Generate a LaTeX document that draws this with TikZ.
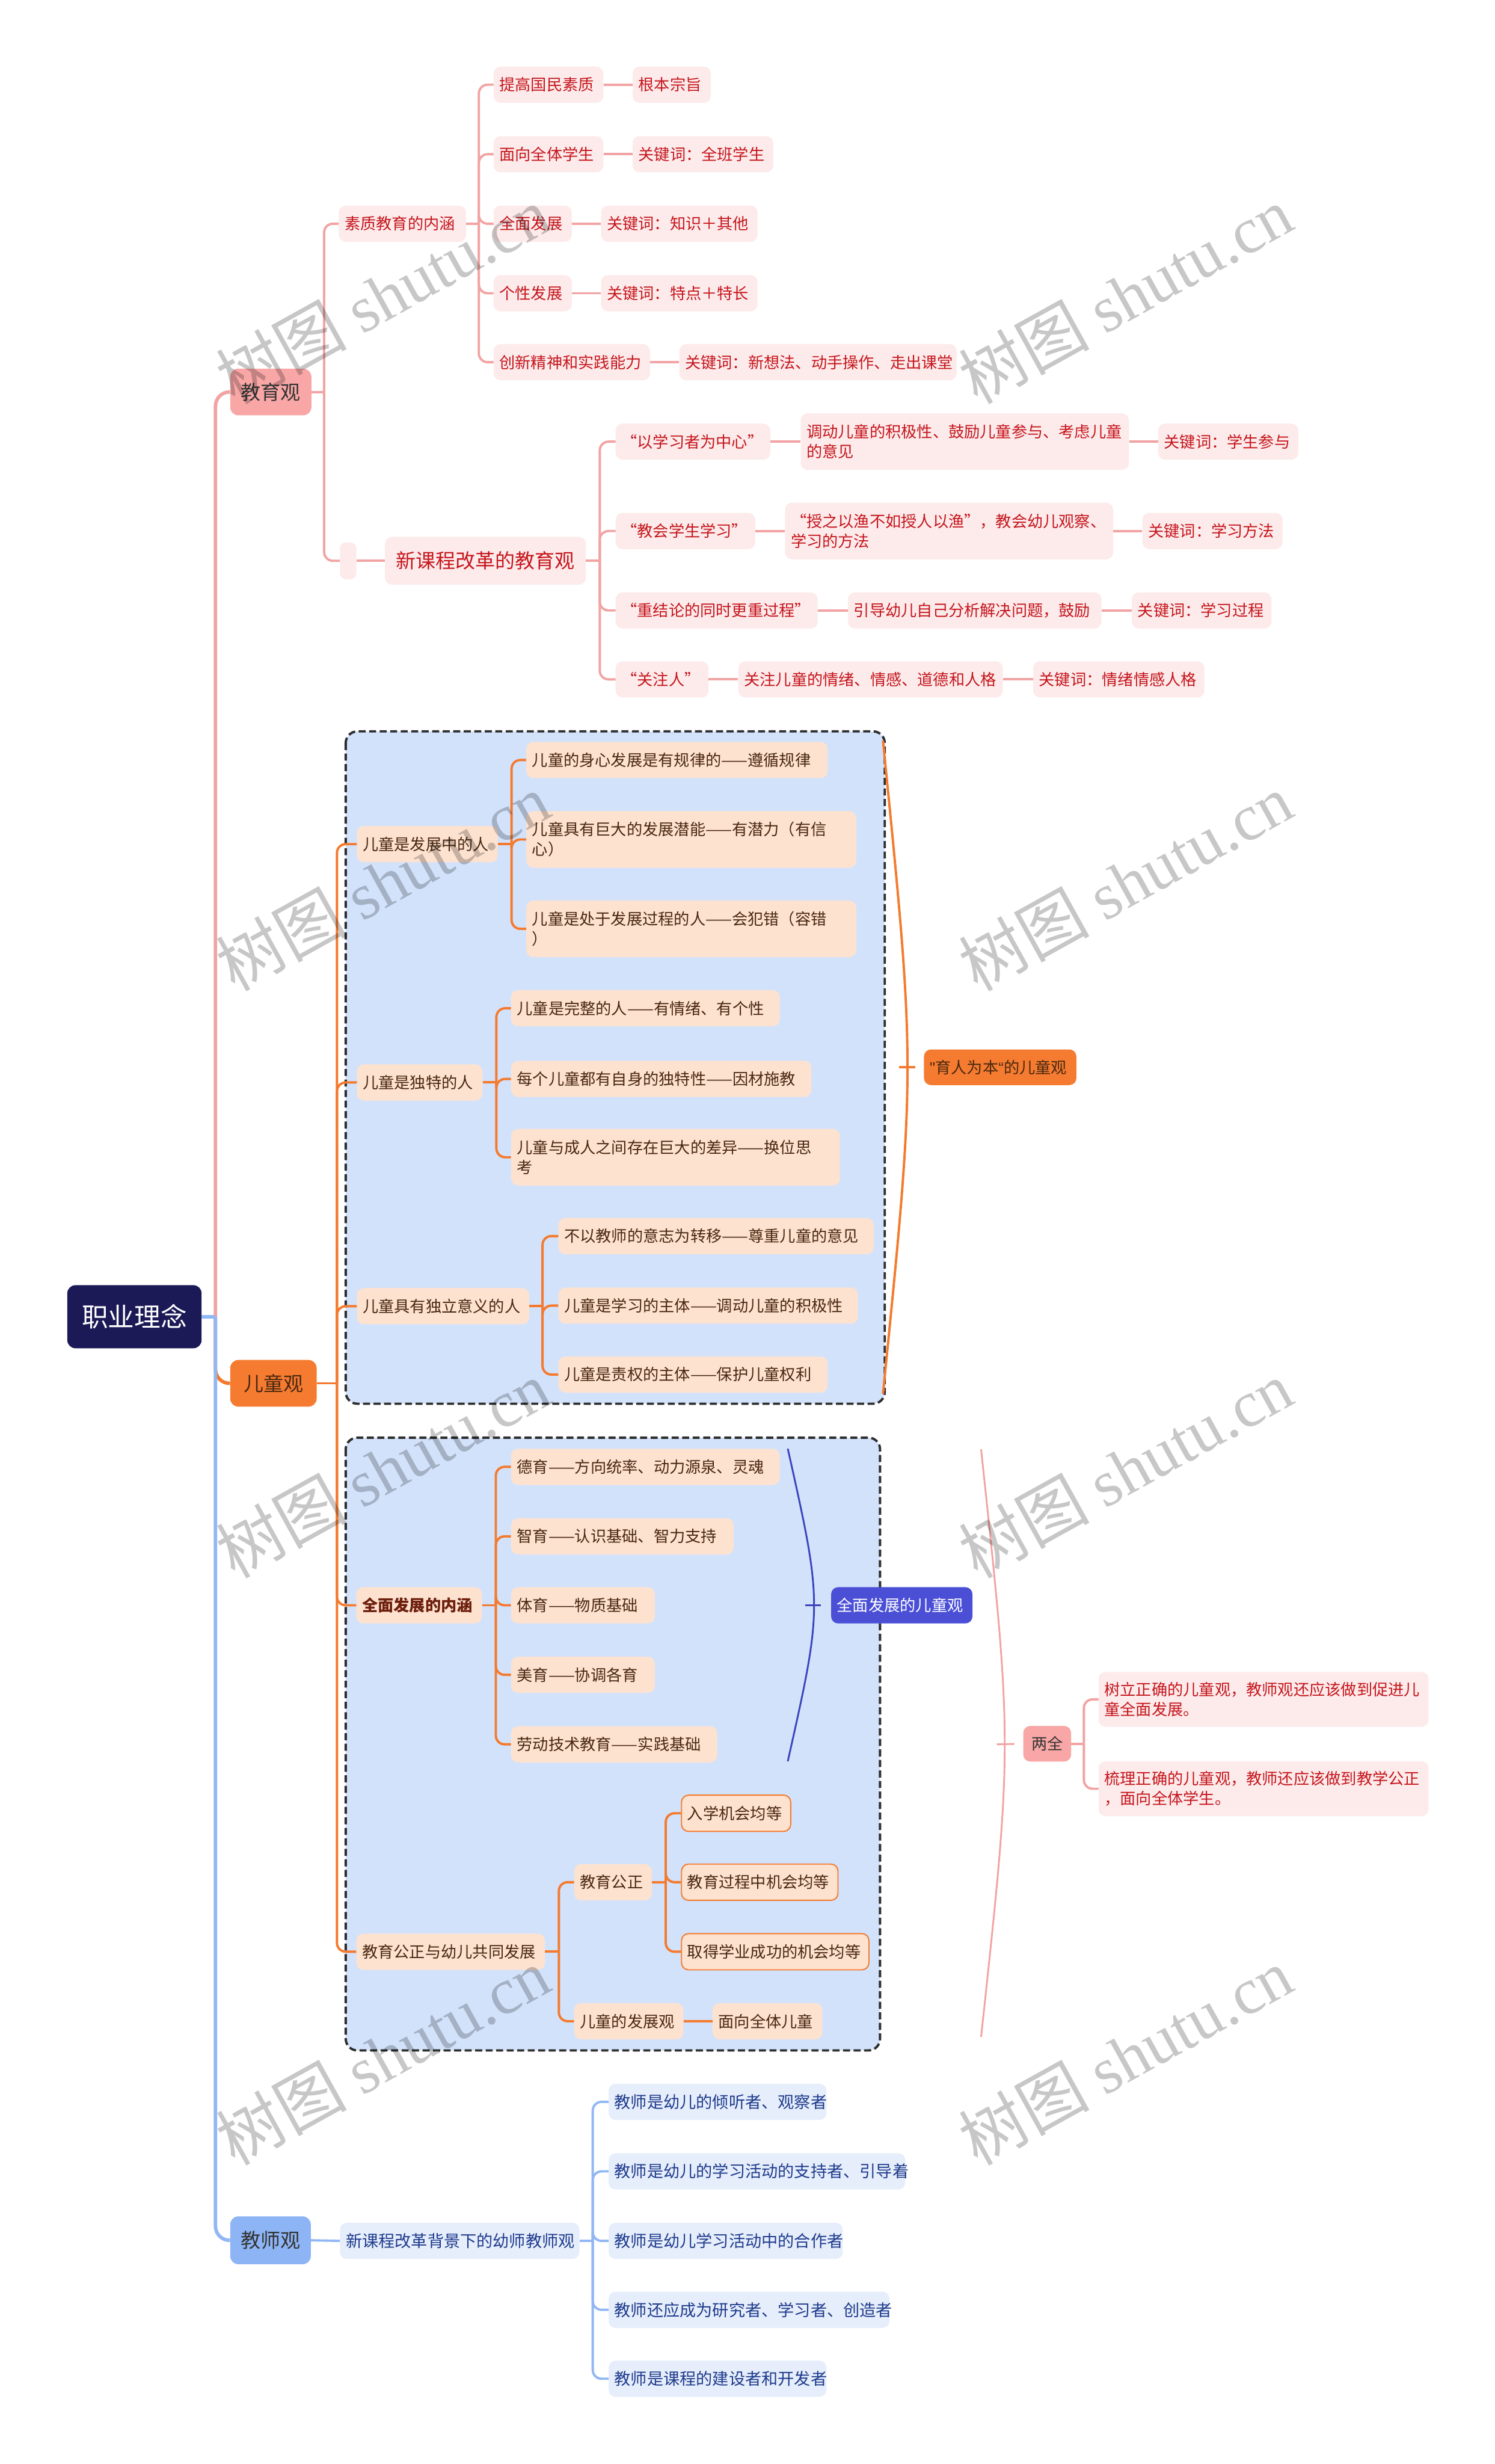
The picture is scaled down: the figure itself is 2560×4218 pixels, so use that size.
\documentclass[tikz,border=0pt]{standalone}
\usepackage{fontspec}
\setmainfont{Noto Sans CJK SC}
\newfontfamily\wmcjk{Noto Sans CJK SC}
\newfontfamily\wmlat{Liberation Serif}
\newfontfamily\qf{Liberation Sans}
\definecolor{pinkline}{HTML}{F2A3A3}
\definecolor{pinkfill}{HTML}{FDEBEB}
\definecolor{redtext}{HTML}{C5161D}
\definecolor{salmon}{HTML}{F8A7A6}
\definecolor{orfill}{HTML}{F57B30}
\definecolor{orline}{HTML}{F47A2E}
\definecolor{peach}{HTML}{FDE2D0}
\definecolor{browntext}{HTML}{4A2810}
\definecolor{boxblue}{HTML}{D3E2FB}
\definecolor{dashc}{HTML}{2E2E2E}
\definecolor{indigo}{HTML}{4A4FD6}
\definecolor{indline}{HTML}{3B45BE}
\definecolor{ltblue}{HTML}{8DB4F4}
\definecolor{blueline}{HTML}{92B7F5}
\definecolor{bluefill}{HTML}{E6EEFC}
\definecolor{navytext}{HTML}{1F3B8C}
\definecolor{rootfill}{HTML}{1B1A57}
\newcommand\fsA{\fontsize{27pt}{34pt}\selectfont}
\newcommand\fsB{\fontsize{28pt}{34pt}\selectfont}
\newcommand\fsM{\fontsize{34pt}{40pt}\selectfont}
\newcommand\fsR{\fontsize{45pt}{52pt}\selectfont}
\newcommand\nd[6]{%
  \pgfmathsetmacro\ndw{#4-#3-20}%
  \node[#1, text width=\ndw pt] (#2) at (#3,#5) {#6};}
\begin{document}
\begin{tikzpicture}[x=1pt,y=-1pt,
  box/.style={anchor=west, inner xsep=10pt, inner ysep=0pt, minimum height=62pt,
    align=left, rounded corners=12pt, font=\fsA},
  pk/.style={box, fill=pinkfill, text=redtext},
  pc/.style={box, fill=peach, text=browntext},
  pco/.style={pc, draw=orline, line width=2pt},
  bf/.style={box, fill=bluefill, text=navytext, font=\fsB},
  mainn/.style={box, align=center, font=\fsM, minimum height=80pt, rounded corners=14pt},
  two/.style={minimum height=97pt},
  pkl/.style={draw=pinkline, line width=4pt, rounded corners=15pt},
  orl/.style={draw=orline, line width=4pt, rounded corners=15pt},
  bll/.style={draw=blueline, line width=4pt, rounded corners=15pt},
  trunk/.style={line width=6pt, rounded corners=24pt},
  dashbox/.style={fill=boxblue, draw=dashc, line width=4pt, dash pattern=on 12pt off 6pt, rounded corners=20pt},
  wm/.style={rotate=29, text opacity=0.22, text=black, inner sep=0pt}
]
\useasboundingbox (0,0) rectangle (2560,4218);
\fill[white] (0,0) rectangle (2560,4218);

% dashed group boxes
\draw[dashbox] (592,1252) rectangle (1515,2403);
\draw[dashbox] (592,2461) rectangle (1507,3510);

% root and main nodes
\nd{mainn, fill=rootfill, text=white, font=\fsR, minimum height=108pt}{root}{115}{345}{2254}{职业理念}
\nd{mainn, fill=salmon, text=black!80}{jyg}{394}{533}{671}{教育观}
\nd{mainn, fill=orfill, text=browntext}{etg}{394}{542}{2368}{儿童观}
\nd{mainn, fill=ltblue, text=black!80, minimum height=82pt}{jsg}{394}{532}{3835}{教师观}

% 教育观 branch
\nd{pk}{szjy}{580}{798}{383}{素质教育的内涵}
\nd{pk}{tg}{845}{1033}{145}{提高国民素质}
\nd{pk}{gb}{1083}{1217}{145}{根本宗旨}
\nd{pk}{mx}{845}{1033}{264}{面向全体学生}
\nd{pk}{k1}{1083}{1324}{264}{关键词：全班学生}
\nd{pk}{qm}{845}{979}{383}{全面发展}
\nd{pk}{k2}{1029}{1297}{383}{关键词：知识＋其他}
\nd{pk}{gx}{845}{979}{502}{个性发展}
\nd{pk}{k3}{1029}{1297}{502}{关键词：特点＋特长}
\nd{pk}{cx}{845}{1113}{620}{创新精神和实践能力}
\nd{pk}{k4}{1163}{1638}{620}{关键词：新想法、动手操作、走出课堂}
\nd{pk, minimum height=63pt, rounded corners=10pt}{blank}{582}{610}{960}{}
\nd{pk, font=\fsM, minimum height=82pt, align=center}{xkc}{659}{1003}{960}{新课程改革的教育观}
\nd{pk}{a1}{1054}{1319}{756}{“以学习者为中心”}
\nd{pk, two}{a2}{1371}{1933}{756}{调动儿童的积极性、鼓励儿童参与、考虑儿童\\的意见}
\nd{pk}{a3}{1983}{2223}{756}{关键词：学生参与}
\nd{pk}{b1}{1054}{1293}{909}{“教会学生学习”}
\nd{pk, two}{b2}{1344}{1906}{909}{“授之以渔不如授人以渔”，教会幼儿观察、\\学习的方法}
\nd{pk}{b3}{1956}{2196}{909}{关键词：学习方法}
\nd{pk}{c1}{1054}{1400}{1045}{“重结论的同时更重过程”}
\nd{pk}{c2}{1452}{1886}{1045}{引导幼儿自己分析解决问题，鼓励}
\nd{pk}{c3}{1938}{2177}{1045}{关键词：学习过程}
\nd{pk}{d1}{1054}{1213}{1163}{“关注人”}
\nd{pk}{d2}{1264}{1717}{1163}{关注儿童的情绪、情感、道德和人格}
\nd{pk}{d3}{1769}{2062}{1163}{关键词：情绪情感人格}

% 儿童观 branch, group 1
\nd{pc}{e1}{611}{852}{1445}{儿童是发展中的人}
\nd{pc}{e11}{901}{1417}{1301}{儿童的身心发展是有规律的——遵循规律}
\nd{pc, two}{e12}{901}{1466}{1437}{儿童具有巨大的发展潜能——有潜力（有信\\心）}
\nd{pc, two}{e13}{901}{1466}{1590}{儿童是处于发展过程的人——会犯错（容错\\）}
\nd{pc}{e2}{611}{826}{1853}{儿童是独特的人}
\nd{pc}{e21}{875}{1335}{1726}{儿童是完整的人——有情绪、有个性}
\nd{pc}{e22}{875}{1389}{1847}{每个儿童都有自身的独特性——因材施教}
\nd{pc, two}{e23}{875}{1438}{1981}{儿童与成人之间存在巨大的差异——换位思\\考}
\nd{pc}{e3}{611}{906}{2236}{儿童具有独立意义的人}
\nd{pc}{e31}{956}{1496}{2116}{不以教师的意志为转移——尊重儿童的意见}
\nd{pc}{e32}{956}{1469}{2235}{儿童是学习的主体——调动儿童的积极性}
\nd{pc}{e33}{956}{1417}{2353}{儿童是责权的主体——保护儿童权利}
\nd{box, fill=orfill, text=browntext, minimum height=61pt}{yr}{1582}{1843}{1827}{{\qf"}育人为本{\qf“}的儿童观}

% 儿童观 branch, group 2
\nd{pc, font=\fsA\bfseries, text=browntext!80!red}{f1}{610}{825}{2748}{全面发展的内涵}
\nd{pc}{f11}{875}{1335}{2511}{德育——方向统率、动力源泉、灵魂}
\nd{pc}{f12}{875}{1256}{2630}{智育——认识基础、智力支持}
\nd{pc}{f13}{875}{1121}{2748}{体育——物质基础}
\nd{pc}{f14}{875}{1121}{2867}{美育——协调各育}
\nd{pc}{f15}{875}{1228}{2986}{劳动技术教育——实践基础}
\nd{box, fill=indigo, text=white}{qz}{1423}{1665}{2748}{全面发展的儿童观}
\nd{pc}{f2}{610}{933}{3341}{教育公正与幼儿共同发展}
\nd{pc}{g1}{983}{1116}{3222}{教育公正}
\nd{pco}{g11}{1166}{1353}{3104}{入学机会均等}
\nd{pco}{g12}{1166}{1434}{3222}{教育过程中机会均等}
\nd{pco}{g13}{1166}{1487}{3341}{取得学业成功的机会均等}
\nd{pc}{g2}{983}{1170}{3460}{儿童的发展观}
\nd{pc}{g21}{1220}{1408}{3460}{面向全体儿童}

% 两全
\nd{box, fill=salmon, text=black!80, minimum height=61pt, align=center}{lq}{1752}{1834}{2985}{两全}
\nd{pk, minimum height=94pt}{l1}{1881}{2446}{2909}{树立正确的儿童观，教师观还应该做到促进儿\\童全面发展。}
\nd{pk, minimum height=94pt}{l2}{1881}{2446}{3062}{梳理正确的儿童观，教师还应该做到教学公正\\，面向全体学生。}

% 教师观 branch
\nd{bf}{h0}{582}{992}{3836}{新课程改革背景下的幼师教师观}
\nd{bf}{h1}{1042}{1415}{3598}{教师是幼儿的倾听者、观察者}
\nd{bf}{h2}{1042}{1550}{3717}{教师是幼儿的学习活动的支持者、引导着}
\nd{bf}{h3}{1042}{1443}{3836}{教师是幼儿学习活动中的合作者}
\nd{bf}{h4}{1042}{1523}{3954}{教师还应成为研究者、学习者、创造者}
\nd{bf}{h5}{1042}{1415}{4072}{教师是课程的建设者和开发者}

% spine coordinates
\coordinate (s0) at (369,2254);
\coordinate (s1) at (555,671);
\coordinate (s2) at (820,383);
\coordinate (s3) at (1027,960);
\coordinate (s4) at (577,2368);
\coordinate (s5) at (876,1445);
\coordinate (s6) at (850,1853);
\coordinate (s7) at (929,2236);
\coordinate (s8) at (849,2748);
\coordinate (s9) at (957,3341);
\coordinate (s10) at (1140,3222);
\coordinate (s11) at (1856,2985);
\coordinate (s12) at (1015,3836);

% main trunk
\draw[pkl, trunk] (s0) |- (jyg.west);
\draw[orl, trunk] (s0) |- (etg.west);
\draw[bll, trunk] (root.east) -- (s0);
\draw[bll, trunk] (s0) |- (jsg.west);

% 教育观 connectors
\draw[pkl] (jyg.east) -- (s1);
\foreach \c in {szjy, blank} \draw[pkl] (s1) |- (\c.west);
\draw[pkl] (szjy.east) -- (s2);
\foreach \c in {tg, mx, qm, gx, cx} \draw[pkl] (s2) |- (\c.west);
\draw[pkl] (tg.east) -- (gb.west);
\draw[pkl] (mx.east) -- (k1.west);
\draw[pkl] (qm.east) -- (k2.west);
\draw[pkl] (gx.east) -- (k3.west);
\draw[pkl] (cx.east) -- (k4.west);
\draw[pkl] (blank.east) -- (xkc.west);
\draw[pkl] (xkc.east) -- (s3);
\foreach \c in {a1, b1, c1, d1} \draw[pkl] (s3) |- (\c.west);
\draw[pkl] (a1.east) -- (a2.west); \draw[pkl] (a2.east) -- (a3.west);
\draw[pkl] (b1.east) -- (b2.west); \draw[pkl] (b2.east) -- (b3.west);
\draw[pkl] (c1.east) -- (c2.west); \draw[pkl] (c2.east) -- (c3.west);
\draw[pkl] (d1.east) -- (d2.west); \draw[pkl] (d2.east) -- (d3.west);

% 儿童观 connectors
\draw[orl] (etg.east) -- (s4);
\foreach \c in {e1, e2, e3, f1, f2} \draw[orl] (s4) |- (\c.west);
\draw[orl] (e1.east) -- (s5);
\foreach \c in {e11, e12, e13} \draw[orl] (s5) |- (\c.west);
\draw[orl] (e2.east) -- (s6);
\foreach \c in {e21, e22, e23} \draw[orl] (s6) |- (\c.west);
\draw[orl] (e3.east) -- (s7);
\foreach \c in {e31, e32, e33} \draw[orl] (s7) |- (\c.west);
\draw[orl] (f1.east) -- (s8);
\foreach \c in {f11, f12, f13, f14, f15} \draw[orl] (s8) |- (\c.west);
\draw[orl] (f2.east) -- (s9);
\foreach \c in {g1, g2} \draw[orl] (s9) |- (\c.west);
\draw[orl] (g1.east) -- (s10);
\foreach \c in {g11, g12, g13} \draw[orl] (s10) |- (\c.west);
\draw[orl] (g2.east) -- (g21.west);

% brackets
\coordinate (bo) at (1540,1827);
\draw[orline, line width=4pt] (1512,1268) .. controls (1568,1827) .. (1512,2386);
\draw[orline, line width=4pt, shorten >=15pt] (bo) -- (yr.west);
\coordinate (bb) at (1379,2748);
\draw[indline, line width=3pt] (1349,2480) .. controls (1409,2748) .. (1349,3015);
\draw[indline, line width=3pt, shorten >=17pt] (bb) -- (qz.west);
\coordinate (bp) at (1707,2986);
\draw[pinkline, line width=3pt] (1680,2481) .. controls (1734,2986) .. (1680,3487);
\draw[pinkline, line width=3pt, shorten >=15pt] (bp) -- (lq.west);
\draw[pkl] (lq.east) -- (s11);
\foreach \c in {l1, l2} \draw[pkl] (s11) |- (\c.west);

% 教师观 connectors
\draw[bll] (jsg.east) -- (h0.west);
\draw[bll] (h0.east) -- (s12);
\foreach \c in {h1, h2, h3, h4, h5} \draw[bll] (s12) |- (\c.west);

% watermarks
\foreach \i/\x/\y in {1/655/505, 2/1927/505, 3/655/1510, 4/1927/1510, 5/655/2515, 6/1927/2515, 7/655/3520, 8/1927/3520}
  \node[wm] (wm\i) at (\x,\y) {\fontsize{112pt}{112pt}\selectfont\wmcjk 树图\ \wmlat shutu.cn};
\end{tikzpicture}
\end{document}
